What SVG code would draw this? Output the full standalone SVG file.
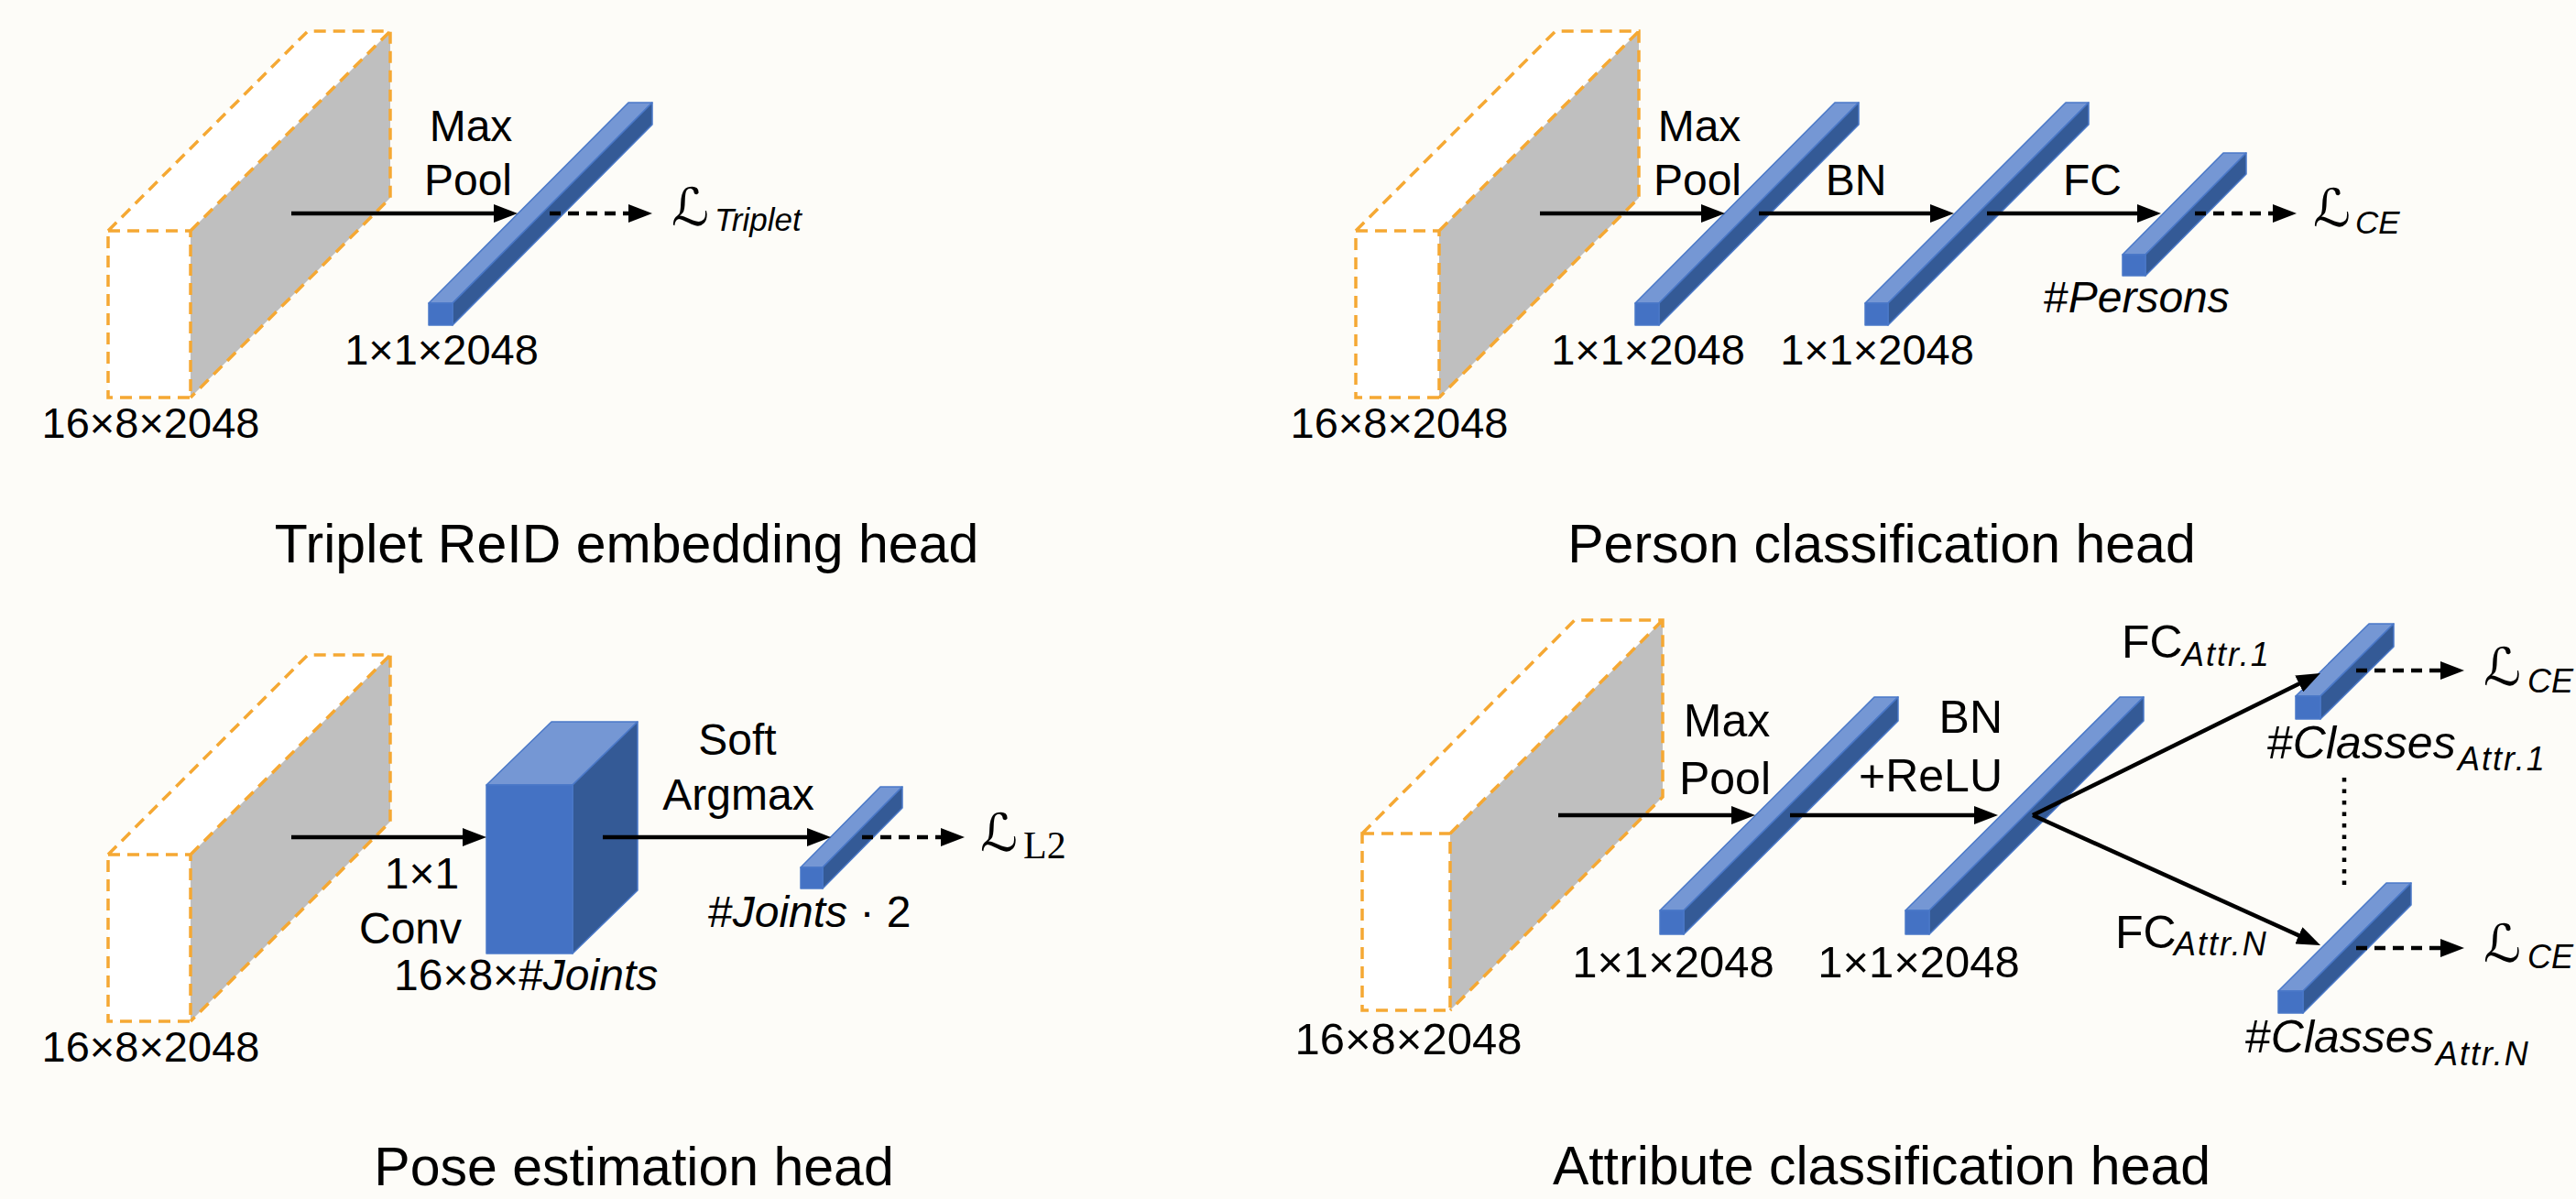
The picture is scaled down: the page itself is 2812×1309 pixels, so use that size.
<svg xmlns="http://www.w3.org/2000/svg" width="2812" height="1309" viewBox="0 0 2812 1309">
<defs>
<style>
.bg{fill:#fdfcf8}
.wf{fill:#ffffff}
.gf{fill:#bfbfbf}
.ob{fill:none;stroke:#f5a833;stroke-width:3.5;stroke-dasharray:13 8}
.bf{fill:#4472c4;stroke:#4a78c8;stroke-width:1.5;stroke-linejoin:round}
.bt{fill:#7597d4;stroke:#4a78c8;stroke-width:1.5;stroke-linejoin:round}
.bs{fill:#345a96;stroke:#4a78c8;stroke-width:1.5;stroke-linejoin:round}
.ar{fill:none;stroke:#000;stroke-width:4.5;marker-end:url(#ah)}
.da{fill:none;stroke:#000;stroke-width:4.5;stroke-dasharray:12 8;marker-end:url(#ah)}
.dt{fill:none;stroke:#000;stroke-width:4.5;stroke-dasharray:4.5 8}
text{font-family:"Liberation Sans",Arial,sans-serif;fill:#000}
.dim{font-size:47px;text-anchor:middle}
.dim4{font-size:49px;text-anchor:middle}
.op{font-size:48px;text-anchor:middle}
.op4{font-size:50px}
.ttl{font-size:59px;text-anchor:middle}
.it{font-style:italic}
.L{font-family:"DejaVu Sans",sans-serif;font-size:57px}
.sub{font-style:italic;font-size:35px}
.sub4{font-style:italic;font-size:36px;letter-spacing:2px}
.rm{font-family:"Liberation Serif","Times New Roman",serif;font-size:42px}
</style>
<marker id="ah" markerUnits="userSpaceOnUse" viewBox="0 0 26 20" markerWidth="26" markerHeight="20" refX="13" refY="10" orient="auto">
<path d="M0,0 L26,10 L0,20 Z" fill="#000"/>
</marker>
</defs>
<rect class="bg" x="0" y="0" width="2812" height="1309"/>

<!-- Panel 1: Triplet ReID embedding head -->
<g id="p1-input">
<polygon class="wf" points="118,252 208,252 426,34 336,34"/>
<rect class="wf" x="118" y="252" width="90" height="182"/>
<polygon class="gf" points="208,252 426,34 426,216 208,434"/>
<path class="ob" d="M118,252 H208 V434 H118 Z M118,252 L336,34 H426 V216 L208,434 M208,252 L426,34"/>
<text class="dim" x="164.5" y="478">16×8×2048</text>
</g>
<g id="p1-embed">
<polygon class="bt" points="468,331 494,331 712,112 686,112"/>
<polygon class="bs" points="494,331 712,112 712,136 494,355"/>
<rect class="bf" x="468" y="331" width="26" height="24"/>
<text class="dim" x="482" y="398">1×1×2048</text>
</g>
<g id="p1-labels">
<text class="op" x="514" y="154">Max</text>
<text class="op" x="511" y="213">Pool</text>
<text class="L" x="733" y="246">ℒ</text>
<text class="sub" x="780" y="252">Triplet</text>
<text class="ttl" x="684" y="614">Triplet ReID embedding head</text>
</g>

<!-- Panel 2: Person classification head -->
<g id="p2-input">
<polygon class="wf" points="1480,252 1571,252 1789,34 1698,34"/>
<rect class="wf" x="1480" y="252" width="91" height="182"/>
<polygon class="gf" points="1571,252 1789,34 1789,216 1571,434"/>
<path class="ob" d="M1480,252 H1571 V434 H1480 Z M1480,252 L1698,34 H1789 V216 L1571,434 M1571,252 L1789,34"/>
<text class="dim" x="1527.5" y="478">16×8×2048</text>
</g>
<g id="p2-pool">
<polygon class="bt" points="1785,331 1811,331 2029,112 2003,112"/>
<polygon class="bs" points="1811,331 2029,112 2029,136 1811,355"/>
<rect class="bf" x="1785" y="331" width="26" height="24"/>
<text class="dim" x="1799" y="398">1×1×2048</text>
</g>
<g id="p2-bn">
<polygon class="bt" points="2036,331 2061,331 2280,112 2255,112"/>
<polygon class="bs" points="2061,331 2280,112 2280,136 2061,355"/>
<rect class="bf" x="2036" y="331" width="25" height="24"/>
<text class="dim" x="2049" y="398">1×1×2048</text>
</g>
<g id="p2-fc">
<polygon class="bt" points="2317,278 2342,278 2452,167 2427,167"/>
<polygon class="bs" points="2342,278 2452,167 2452,190 2342,301"/>
<rect class="bf" x="2317" y="278" width="25" height="23"/>
<text x="2231" y="341" style="font-size:48px">#<tspan class="it">Persons</tspan></text>
</g>
<g id="p2-labels">
<text class="op" x="1855" y="154">Max</text>
<text class="op" x="1853" y="213">Pool</text>
<text class="op" x="2026" y="213">BN</text>
<text class="op" x="2284" y="213">FC</text>
<text class="L" x="2525" y="247">ℒ</text>
<text class="sub" x="2571" y="255">CE</text>
<text class="ttl" x="2054" y="614">Person classification head</text>
</g>

<!-- Panel 3: Pose estimation head -->
<g id="p3-input">
<polygon class="wf" points="118,933 208,933 426,715 336,715"/>
<rect class="wf" x="118" y="933" width="90" height="182"/>
<polygon class="gf" points="208,933 426,715 426,897 208,1115"/>
<path class="ob" d="M118,933 H208 V1115 H118 Z M118,933 L336,715 H426 V897 L208,1115 M208,933 L426,715"/>
<text class="dim" x="164.5" y="1159">16×8×2048</text>
</g>
<g id="p3-conv">
<polygon class="bt" points="531,857 625,857 696,788 602,788"/>
<polygon class="bs" points="625,857 696,788 696,972 625,1041"/>
<rect class="bf" x="531" y="857" width="94" height="184"/>
<text x="430" y="1081" style="font-size:48px">16×8×#<tspan class="it">Joints</tspan></text>
</g>
<g id="p3-joints">
<polygon class="bt" points="874,947 898,947 985,859 961,859"/>
<polygon class="bs" points="898,947 985,859 985,882 898,970"/>
<rect class="bf" x="874" y="947" width="24" height="23"/>
<text x="773" y="1012" style="font-size:48px">#<tspan class="it">Joints</tspan> · 2</text>
</g>
<g id="p3-labels">
<text class="op" x="460.5" y="970">1×1</text>
<text class="op" x="448" y="1030">Conv</text>
<text class="op" x="805" y="824">Soft</text>
<text class="op" x="806" y="884">Argmax</text>
<text class="L" x="1070" y="929">ℒ</text>
<text class="rm" x="1117" y="937">L2</text>
<text class="ttl" x="692" y="1294">Pose estimation head</text>
</g>

<!-- Panel 4: Attribute classification head -->
<g id="p4-input">
<polygon class="wf" points="1487,910 1583,910 1815,677 1719,677"/>
<rect class="wf" x="1487" y="910" width="96" height="193"/>
<polygon class="gf" points="1583,910 1815,677 1815,870 1583,1103"/>
<path class="ob" d="M1487,910 H1583 V1103 H1487 Z M1487,910 L1719,677 H1815 V870 L1583,1103 M1583,910 L1815,677"/>
<text class="dim4" x="1537.5" y="1151">16×8×2048</text>
</g>
<g id="p4-pool">
<polygon class="bt" points="1812,994 1838,994 2072,761 2046,761"/>
<polygon class="bs" points="1838,994 2072,761 2072,787 1838,1020"/>
<rect class="bf" x="1812" y="994" width="26" height="26"/>
<text class="dim4" x="1826.5" y="1067">1×1×2048</text>
</g>
<g id="p4-bn">
<polygon class="bt" points="2080,994 2106,994 2340,761 2314,761"/>
<polygon class="bs" points="2106,994 2340,761 2340,787 2106,1020"/>
<rect class="bf" x="2080" y="994" width="26" height="26"/>
<text class="dim4" x="2094.5" y="1067">1×1×2048</text>
</g>
<g id="p4-attr1">
<polygon class="bt" points="2506,760 2533,760 2613,681 2586,681"/>
<polygon class="bs" points="2533,760 2613,681 2613,706 2533,785"/>
<rect class="bf" x="2506" y="760" width="27" height="25"/>
<text class="op4" x="2475" y="828">#<tspan class="it">Classes</tspan></text>
<text class="sub4" x="2683" y="841">Attr.1</text>
</g>
<g id="p4-attrN">
<polygon class="bt" points="2487,1082 2514,1082 2632,964 2605,964"/>
<polygon class="bs" points="2514,1082 2632,964 2632,988 2514,1106"/>
<rect class="bf" x="2487" y="1082" width="27" height="24"/>
<text class="op4" x="2451" y="1149">#<tspan class="it">Classes</tspan></text>
<text class="sub4" x="2659" y="1163">Attr.N</text>
</g>
<g id="p4-labels">
<text class="op4" x="1885" y="804" text-anchor="middle">Max</text>
<text class="op4" x="1883" y="867" text-anchor="middle">Pool</text>
<text class="op4" x="2186" y="800" text-anchor="end">BN</text>
<text class="op4" x="2186" y="864" text-anchor="end">+ReLU</text>
<text class="op4" x="2316" y="718">FC</text>
<text class="sub4" x="2382" y="727">Attr.1</text>
<text class="op4" x="2309" y="1035">FC</text>
<text class="sub4" x="2373" y="1043">Attr.N</text>
<text class="L" x="2711" y="748">ℒ</text>
<text class="sub" x="2759" y="756" style="font-size:36px">CE</text>
<text class="L" x="2711" y="1050">ℒ</text>
<text class="sub" x="2759" y="1057" style="font-size:36px">CE</text>
<text class="ttl" x="2054" y="1293">Attribute classification head</text>
</g>

<g id="connectors">
<path class="ar" d="M318,233 H552"/>
<path class="da" d="M600,233 H699"/>
<path class="ar" d="M1681,233 H1870"/>
<path class="ar" d="M1920,233 H2120"/>
<path class="ar" d="M2169,233 H2346"/>
<path class="da" d="M2396,233 H2494"/>
<path class="ar" d="M318,914 H518"/>
<path class="ar" d="M658,914 H894"/>
<path class="da" d="M941,914 H1040"/>
<path class="ar" d="M1701,890 H1903"/>
<path class="ar" d="M1954,890 H2168"/>
<path class="ar" d="M2219,890 L2521.3,740.8"/>
<path class="ar" d="M2219,890 L2521.2,1026.6"/>
<path class="da" d="M2572,732 H2677"/>
<path class="da" d="M2572,1035 H2677"/>
<path class="dt" d="M2559,849 V973"/>
</g>
</svg>
